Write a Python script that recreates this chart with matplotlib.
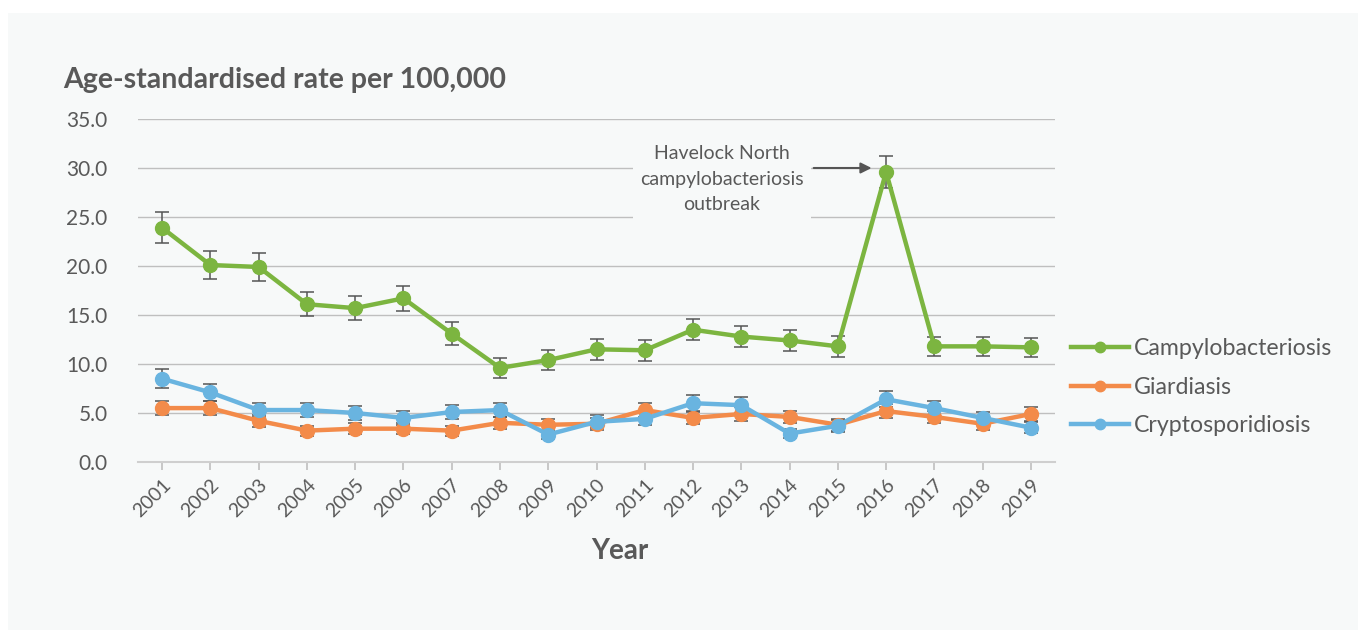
import numpy as np
import matplotlib
matplotlib.use("Agg")
import matplotlib.pyplot as plt
from matplotlib.patches import Rectangle
from matplotlib.lines import Line2D

plt.rcParams['font.family'] = ['Lato', 'DejaVu Sans']

years = list(range(2001, 2020))

campy = [23.9, 20.1, 19.9, 16.1, 15.7, 16.7, 13.1, 9.6, 10.4, 11.5, 11.4, 13.5, 12.8, 12.4, 11.8, 29.6, 11.8, 11.8, 11.7]
campy_err = [1.6, 1.4, 1.4, 1.2, 1.2, 1.3, 1.2, 1.0, 1.0, 1.1, 1.1, 1.1, 1.1, 1.1, 1.1, 1.6, 1.0, 1.0, 1.0]

giardia = [5.5, 5.5, 4.2, 3.2, 3.4, 3.4, 3.2, 4.0, 3.8, 3.9, 5.3, 4.5, 4.9, 4.6, 3.8, 5.2, 4.6, 3.9, 4.9]
giardia_err = [0.75, 0.75, 0.6, 0.5, 0.55, 0.55, 0.5, 0.6, 0.6, 0.6, 0.7, 0.65, 0.7, 0.65, 0.6, 0.7, 0.65, 0.6, 0.7]

crypto = [8.5, 7.1, 5.3, 5.3, 5.0, 4.5, 5.1, 5.3, 2.8, 4.1, 4.4, 6.0, 5.8, 2.9, 3.7, 6.4, 5.5, 4.5, 3.5]
crypto_err = [0.95, 0.85, 0.75, 0.75, 0.7, 0.7, 0.75, 0.75, 0.5, 0.65, 0.65, 0.8, 0.8, 0.5, 0.6, 0.8, 0.75, 0.65, 0.55]

series = [
    ('Campylobacteriosis', campy, campy_err, '#7cb540'),
    ('Giardiasis', giardia, giardia_err, '#f38b4a'),
    ('Cryptosporidiosis', crypto, crypto_err, '#69b4e0'),
]

text_col = '#595959'

fig = plt.figure(figsize=(13.58, 6.30), dpi=100)
fig.patch.set_facecolor('white')
fig.patches.append(Rectangle((8 / 1358, 0), 1 - 8 / 1358, 1 - 13 / 630, transform=fig.transFigure,
                             facecolor='#f7f9f9', edgecolor='none', zorder=-10))

ax = fig.add_axes([138 / 1358, 168 / 630, (1055 - 138) / 1358, (462 - 119) / 630])
ax.set_facecolor('none')

handles = []
for name, vals, err, col in series:
    ax.errorbar(years, vals, yerr=err, color=col, lw=3.2, marker='o', markersize=10,
                ecolor='#555555', elinewidth=1.1, capsize=5, capthick=1.1, zorder=3)
    handles.append(Line2D([], [], color=col, lw=3.2, marker='o', markersize=7.5, label=name))

ax.set_xlim(2000.5, 2019.5)
ax.set_ylim(0, 35)
ax.set_yticks(np.arange(0, 36, 5))
ax.set_yticklabels(['%.1f' % v for v in np.arange(0, 36, 5)], fontsize=15, color=text_col)
ax.set_xticks(years)
ax.set_xticklabels([str(y) for y in years], rotation=45, ha='right', rotation_mode='anchor',
                   fontsize=14, color=text_col)
ax.tick_params(axis='y', length=0, pad=22)
ax.tick_params(axis='x', length=6, color='#bfbfbf', width=1.2, pad=4)
ax.grid(axis='y', color='#bfbfbf', lw=1)
ax.set_axisbelow(True)
for s in ['top', 'right', 'left']:
    ax.spines[s].set_visible(False)
ax.spines['bottom'].set_color('#cfcfcf')
ax.spines['bottom'].set_linewidth(1.5)

ax.set_xlabel('Year', fontsize=20, fontweight='bold', color=text_col)
ax.xaxis.set_label_coords(0.525, -0.222)
fig.text(63 / 1358, 1 - 80 / 630, 'Age-standardised rate per 100,000', fontsize=20.5,
         fontweight='bold', color=text_col, va='center', ha='left')

# annotation text with background box hiding gridlines, plus horizontal arrow
ax.text(2012.6, 28.85, 'Havelock North\ncampylobacteriosis\noutbreak', ha='center', va='center',
        fontsize=14, color=text_col, linespacing=1.6, zorder=4,
        bbox=dict(boxstyle='square,pad=0.35', fc='#f7f9f9', ec='none'))
ax.annotate('', xy=(2015.7, 30.0), xytext=(2014.5, 30.0),
            arrowprops=dict(arrowstyle='-|>', color='#555555', lw=1.5, mutation_scale=16,
                            shrinkA=0, shrinkB=0), zorder=4)

ax.legend(handles=handles, loc='center left', bbox_to_anchor=(0.995, 0.218), frameon=False, fontsize=16.7,
          labelcolor=text_col, handlelength=2.5, labelspacing=0.75, handletextpad=0.2)

fig.savefig('out.png', dpi=100, facecolor=fig.get_facecolor())
